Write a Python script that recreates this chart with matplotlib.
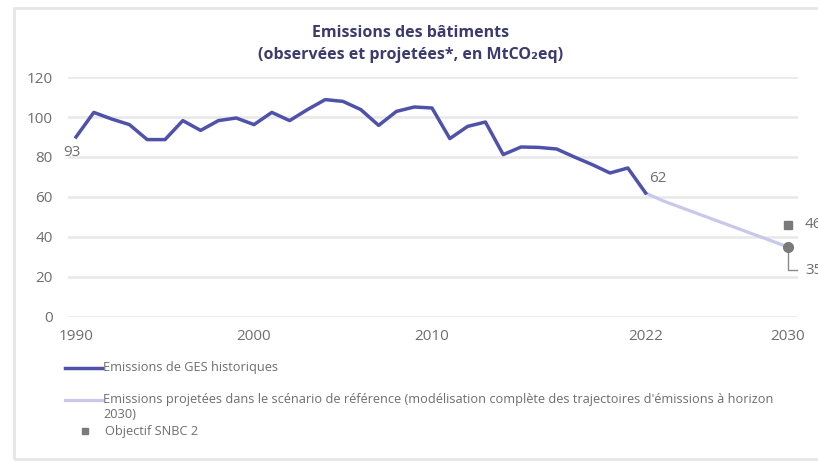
import matplotlib.pyplot as plt
from matplotlib.lines import Line2D
from matplotlib.patches import Rectangle

# donnees (MtCO2eq)
years_hist = list(range(1990, 2023))
emissions_hist = [90, 102.3, 99, 96.2, 88.7, 88.7, 98.2, 93.3, 98.2, 99.5,
                  96.2, 102.3, 98.2, 103.7, 108.7, 107.8, 103.7, 95.8, 102.8, 105,
                  104.5, 89.2, 95.3, 97.5, 81.2, 85, 84.8, 84, 80, 76.2,
                  72, 74.5, 62]
years_proj = [2022, 2023, 2030]
emissions_proj = [62, 58, 35]
snbc_year = 2030
snbc_value = 46

x_ticks = [1990, 2000, 2010, 2022, 2030]
y_ticks = [0, 20, 40, 60, 80, 100, 120]

FONT = ["Open Sans", "DejaVu Sans"]
plt.rcParams["font.family"] = FONT

HIST_COLOR = "#4f52a8"
PROJ_COLOR = "#c8c8ea"
GREY = "#6e6e6e"
MARK = "#7a7a7a"
TITLE_COLOR = "#3b3b6e"

W, H = 818, 462
fig = plt.figure(figsize=(W / 100, H / 100), dpi=100)

# cadre gris autour du graphique
fig.add_artist(Rectangle((14 / W, 1 - 459 / H), 1.2, (459 - 8) / H,
                         transform=fig.transFigure, fill=False,
                         edgecolor="#e6e6e6", lw=2))

ax = fig.add_axes([68 / W, 1 - 317 / H, (798 - 68) / W, 240 / H])
ax.set_xlim(1989.55, 2030.56)
ax.set_ylim(0, 120)

for y in y_ticks:
    ax.axhline(y, color="#e8e8e8", lw=1.8, zorder=0)

ax.plot(years_proj, emissions_proj, color=PROJ_COLOR, lw=2.3, zorder=2)
ax.plot(years_hist, emissions_hist, color=HIST_COLOR, lw=2.5, zorder=3,
        solid_joinstyle="round")

# objectif et point 2030
ax.plot([snbc_year], [snbc_value], marker="s", color=MARK, ms=5.5,
        linestyle="none", zorder=4, clip_on=False)
ax.plot([years_proj[-1]], [emissions_proj[-1]], marker="o", color=MARK,
        ms=7, linestyle="none", zorder=4, clip_on=False)
ax.plot([2030, 2030, 2030.5], [emissions_proj[-1], 23.5, 23.5],
        color="#8a8a8a", lw=1, zorder=3, clip_on=False)

ax.text(2030.95, snbc_value, str(snbc_value), color=GREY, fontsize=11,
        va="center", ha="left", clip_on=False)
ax.text(2030.95, 23.5, str(emissions_proj[-1]), color=GREY, fontsize=11,
        va="center", ha="left", clip_on=False)
ax.text(1989.75, 82, "93", color=GREY, fontsize=11, va="center", ha="center")
ax.text(2022.7, 69, str(emissions_hist[-1]), color=GREY, fontsize=11,
        va="center", ha="center")

ax.set_xticks(x_ticks)
ax.set_yticks(y_ticks)
ax.tick_params(axis="both", length=0, labelsize=11, labelcolor=GREY)
ax.tick_params(axis="y", pad=11)
ax.tick_params(axis="x", pad=9)
for s in ax.spines.values():
    s.set_visible(False)

# titre
fig.text(0.5025, 1 - 33 / H, "Emissions des bâtiments", ha="center",
         va="center", fontsize=11.5, fontweight="bold", color=TITLE_COLOR)
fig.text(0.5025, 1 - 55 / H, "(observées et projetées*, en MtCO\u2082eq)",
         ha="center", va="center", fontsize=11.5, fontweight="bold",
         color=TITLE_COLOR)

# legende
leg_fs = 9.2
fig.add_artist(Line2D([65 / W, 102 / W], [1 - 368 / H] * 2, color=HIST_COLOR,
                      lw=2.5))
fig.text(103 / W, 1 - 368 / H, "Emissions de GES historiques", fontsize=leg_fs,
         color=GREY, va="center")
fig.add_artist(Line2D([65 / W, 102 / W], [1 - 400 / H] * 2, color=PROJ_COLOR,
                      lw=2.3))
fig.text(103 / W, 1 - 400 / H,
         "Emissions projetées dans le scénario de référence (modélisation "
         "complète des trajectoires d'émissions à horizon",
         fontsize=leg_fs, color=GREY, va="center")
fig.text(103 / W, 1 - 415 / H, "2030)", fontsize=leg_fs, color=GREY,
         va="center")
fig.add_artist(Line2D([85 / W], [1 - 431 / H], marker="s", ms=4.5,
                      color=MARK, linestyle="none"))
fig.text(105 / W, 1 - 431 / H, "Objectif SNBC 2", fontsize=leg_fs, color=GREY,
         va="center")

fig.savefig("out.png", dpi=100)
